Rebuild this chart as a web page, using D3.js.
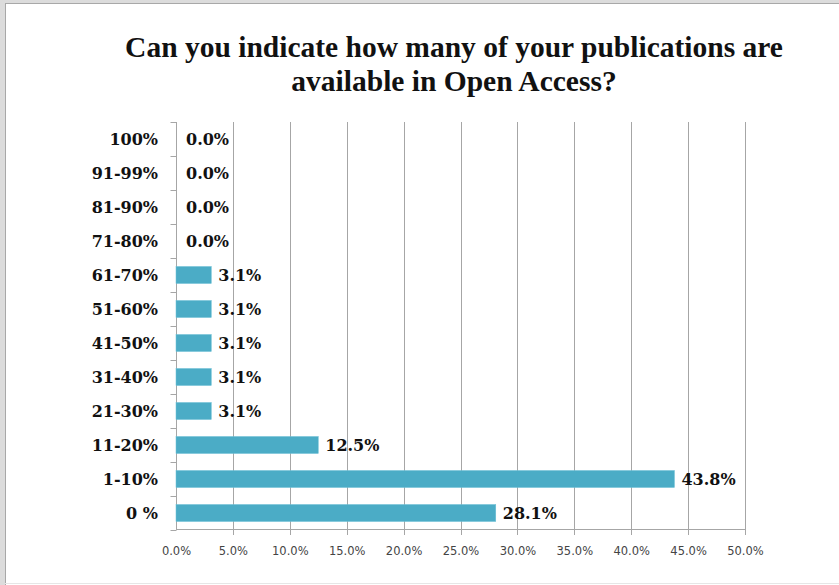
<!DOCTYPE html>
<html><head><meta charset="utf-8">
<script src="https://cdn.jsdelivr.net/npm/d3@7"></script>
<style>html,body{margin:0;padding:0;background:#fff;}svg{display:block;}</style>
</head><body>
<svg id="c" width="839" height="585"></svg>
<script>
const categories = ["100%","91-99%","81-90%","71-80%","61-70%","51-60%","41-50%","31-40%","21-30%","11-20%","1-10%","0 %"];
const values = [0.0,0.0,0.0,0.0,3.1,3.1,3.1,3.1,3.1,12.5,43.8,28.1];
const xTicks = [0,5,10,15,20,25,30,35,40,45,50];
const titleLines = ["Can you indicate how many of your publications are","available in Open Access?"];

const svg = d3.select("#c");
// frame
svg.append("rect").attr("x",0).attr("y",0).attr("width",839).attr("height",585).attr("fill","#fff");
svg.append("rect").attr("x",0).attr("y",0).attr("width",5).attr("height",585).attr("fill","#dcdcdc");
svg.append("rect").attr("x",0).attr("y",0).attr("width",839).attr("height",3).attr("fill","#dcdcdc");
svg.append("line").attr("x1",5.5).attr("x2",5.5).attr("y1",3).attr("y2",585).attr("stroke","#a8a8a8");
svg.append("line").attr("x1",5).attr("x2",839).attr("y1",3.5).attr("y2",3.5).attr("stroke","#a8a8a8");
svg.append("line").attr("x1",5).attr("x2",839).attr("y1",583.5).attr("y2",583.5).attr("stroke","#e6e6e6");

const x = d3.scaleLinear().domain([0,50]).range([176,745]);
const y = d3.scaleBand().domain(categories).range([122,530]).paddingInner(0.5).paddingOuter(0.25);
const yb = d3.scaleBand().domain(categories).range([122,530]);

// title
svg.append("text").attr("text-anchor","middle")
  .attr("font-family","Liberation Serif, serif").attr("font-weight","bold").attr("font-size",29.5).attr("fill","#111")
  .selectAll("tspan").data(titleLines).join("tspan")
  .attr("x",454).attr("y",(d,i)=>57+i*34).text(d=>d);

// gridlines
svg.append("g").selectAll("line").data(xTicks.slice(1)).join("line")
  .attr("x1",d=>Math.round(x(d))+0.5).attr("x2",d=>Math.round(x(d))+0.5)
  .attr("y1",122).attr("y2",535).attr("stroke","#a6a6a6").attr("stroke-width",1);

// bottom axis line
svg.append("line").attr("x1",176).attr("x2",745.5).attr("y1",529.5).attr("y2",529.5).attr("stroke","#a6a6a6");

// bottom axis labels
const xa = svg.append("g").attr("transform","translate(0,530)")
  .call(d3.axisBottom(x).tickValues(xTicks).tickFormat(d=>d.toFixed(1)+"%").tickSize(0).tickPadding(17));
xa.select(".domain").remove();
xa.selectAll("text").attr("font-family","DejaVu Sans, Verdana, sans-serif").attr("font-size",11.5).attr("fill","#444");

// left axis
const ya = svg.append("g").attr("transform","translate(176.5,0)");
ya.append("line").attr("x1",0).attr("x2",0).attr("y1",122).attr("y2",530).attr("stroke","#a6a6a6");
ya.selectAll("line.t").data(categories.concat(["__end"])).join("line").attr("class","t")
  .attr("x1",-6).attr("x2",0)
  .attr("y1",(d,i)=>Math.round(122+i*yb.step())+0.5).attr("y2",(d,i)=>Math.round(122+i*yb.step())+0.5)
  .attr("stroke","#a6a6a6");

// category labels
svg.append("g").selectAll("text").data(categories).join("text")
  .attr("x",158).attr("y",d=>yb(d)+yb.bandwidth()/2).attr("dy","0.36em")
  .attr("text-anchor","end").attr("font-family","DejaVu Serif, serif").attr("font-weight","bold")
  .attr("font-size",16).attr("fill","#111").text(d=>d);

// bars
svg.append("g").selectAll("rect").data(values).join("rect")
  .attr("x",x(0)).attr("y",(d,i)=>y(categories[i])).attr("width",d=>x(d)-x(0))
  .attr("height",y.bandwidth()).attr("fill","#4bacc6").attr("stroke","#6cc0d6").attr("stroke-width",0.5);

// value labels
svg.append("g").selectAll("text").data(values).join("text")
  .attr("x",d=>x(d)+(d>0?7:10)).attr("y",(d,i)=>yb(categories[i])+yb.bandwidth()/2).attr("dy","0.36em")
  .attr("font-family","DejaVu Serif, serif").attr("font-weight","bold")
  .attr("font-size",16).attr("fill","#111").text(d=>d.toFixed(1)+"%");
</script>
</body></html>
